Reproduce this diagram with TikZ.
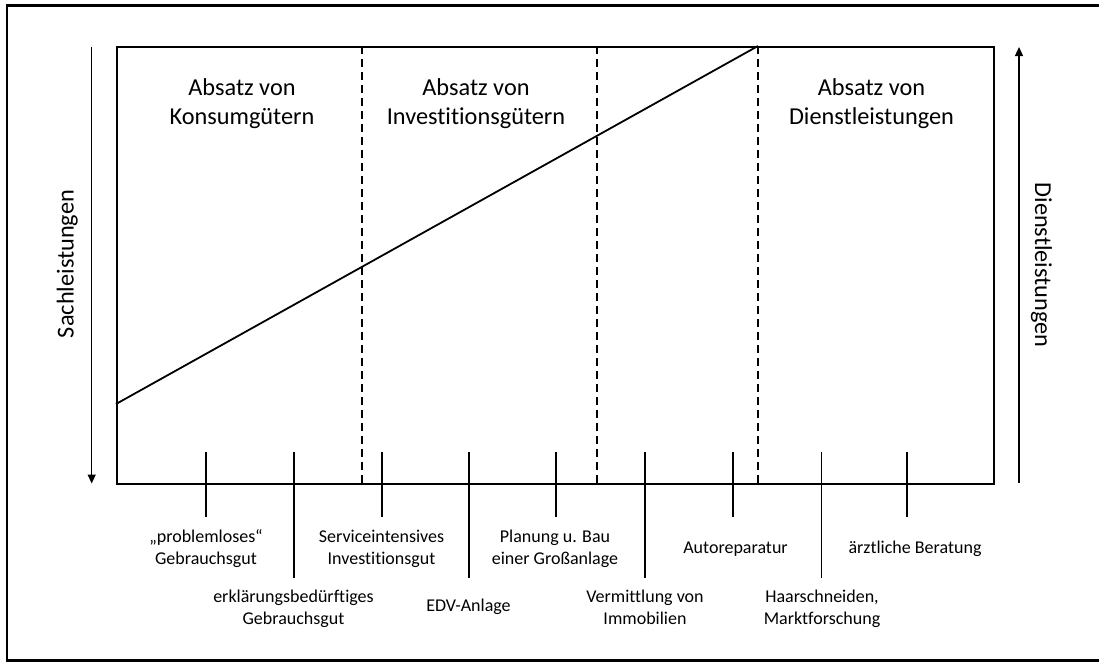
\documentclass[tikz,border=0pt]{standalone}
\usepackage{fontspec}
\setmainfont{Carlito}[Ligatures={NoCommon}]
\usetikzlibrary{arrows.meta}
\newcommand{\twolines}[2]{\begin{tabular}[t]{@{}c@{}}#1\\#2\end{tabular}}
\begin{document}
\begin{tikzpicture}[x=1pt,y=-1pt,
  frame/.style={line width=2.6pt},
  boxline/.style={line width=1.8pt},
  divider/.style={line width=1.6pt, dash pattern=on 8pt off 5pt},
  diag/.style={line width=1.8pt},
  tickline/.style={line width=1.8pt},
  axisarrow/.style={line width=1.3pt, -{Triangle[width=8pt,length=9pt]}},
  head/.style={font=\fontsize{24.3}{29.6}\selectfont, anchor=base, inner sep=0pt},
  item/.style={font=\fontsize{18}{22}\selectfont, anchor=base, inner sep=0pt},
  sidelabel/.style={font=\fontsize{24.3}{29.6}\selectfont, anchor=base, inner sep=0pt}]
\useasboundingbox (0,0) rectangle (1099,662);
% outer frame (right side lies outside the picture)
\draw[frame] (1106,5.5) -- (7,5.5) -- (7,660.5) -- (1106,660.5);
% main box
\node[draw, boxline, anchor=north west, inner sep=0pt, minimum width=877pt, minimum height=437pt] (box) at (116,46) {};
% diagonal
\coordinate (dgA) at (116,404);
\coordinate (dgB) at (758,46);
\draw[diag] (dgA) -- (dgB);
% dividers
\foreach \n/\x in {d1/362, d2/597, d3/758}{
  \coordinate (\n top) at (\x,46);
  \coordinate (\n bot) at (\x,483);
  \draw[divider] (\n top) -- (\n bot);
}
% ticks
\foreach \n/\x/\b in {t1/206/517, t2/294/578, t3/382/517, t4/469/578, t5/556/517, t6/645/578, t7/733/517, t8/821.5/578, t9/907/517}{
  \coordinate (\n top) at (\x,452);
  \coordinate (\n bot) at (\x,\b);
  \draw[tickline] (\n top) -- (\n bot);
}
% side arrows
\coordinate (aLtop) at (91.7,46.5);
\coordinate (aLbot) at (91.7,483.5);
\draw[axisarrow] (aLtop) -- (aLbot);
\coordinate (aRbot) at (1019,483);
\coordinate (aRtop) at (1019,47);
\draw[axisarrow] (aRbot) -- (aRtop);
\node[sidelabel, rotate=90] (sach) at (73.5,264) {Sachleistungen};
\node[sidelabel, rotate=-90] (dienst) at (1035,265) {Dienstleistungen};
% headings
\node[head] (h1) at (242,95) {\twolines{Absatz von}{Konsumgütern}};
\node[head] (h2) at (476,95) {\twolines{Absatz von}{Investitionsgütern}};
\node[head] (h3) at (871.5,95) {\twolines{Absatz von}{Dienstleistungen}};
% items
\node[item] (l1) at (206,542.5) {\twolines{„problemloses“}{Gebrauchsgut}};
\node[item] (l2) at (293.5,602) {\twolines{erklärungsbedürftiges}{Gebrauchsgut}};
\node[item] (l3) at (381.5,542.5) {\twolines{Serviceintensives}{Investitionsgut}};
\node[item] (l4) at (468.5,611.5) {EDV-Anlage};
\node[item] (l5) at (555,542.5) {\twolines{Planung u. Bau}{einer Großanlage}};
\node[item] (l6) at (645,602) {\twolines{Vermittlung von}{Immobilien}};
\node[item] (l7) at (735.5,553) {Autoreparatur};
\node[item] (l8) at (822,602) {\twolines{Haarschneiden,}{Marktforschung}};
\node[item] (l9) at (915,553) {ärztliche Beratung};
\end{tikzpicture}
\end{document}
